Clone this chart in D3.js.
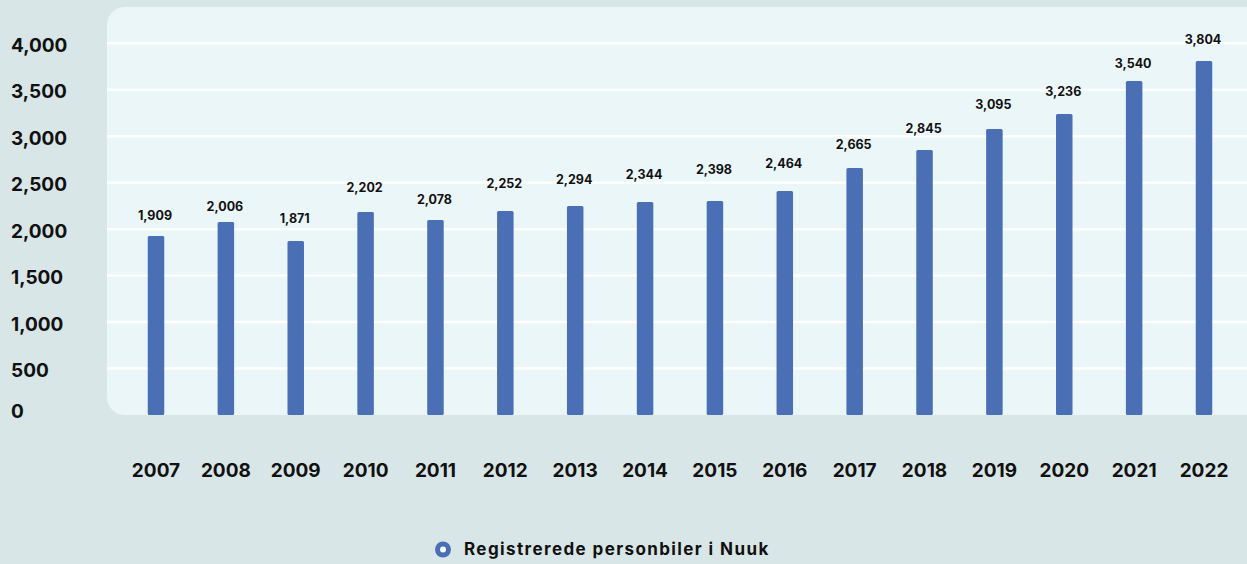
<!DOCTYPE html>
<html>
<head>
<meta charset="utf-8">
<script src="https://cdn.jsdelivr.net/npm/d3@7"></script>
<style>
  html, body { margin: 0; padding: 0; background: #d9e6e7; }
  svg { display: block; font-family: Inter, "Noto Sans", sans-serif; }
</style>
</head>
<body>
<div id="chart"></div>
<script>
// data
const years = ["2007", "2008", "2009", "2010", "2011", "2012", "2013", "2014",
  "2015", "2016", "2017", "2018", "2019", "2020", "2021", "2022"]
// bar heights as drawn
const barValues = [1926, 2077, 1872, 2184, 2098, 2195, 2249, 2292,
  2303, 2410, 2658, 2852, 3078, 3239, 3594, 3809]
// printed labels above the bars
const labelValues = [1909, 2006, 1871, 2202, 2078, 2252, 2294, 2344,
  2398, 2464, 2665, 2845, 3095, 3236, 3540, 3804]
const yTicks = [0, 500, 1000, 1500, 2000, 2500, 3000, 3500, 4000]
const seriesName = "Registrerede personbiler i Nuuk"

const width = 1247, height = 564
const plot = { left: 107, top: 7, right: 1247, bottom: 415 }
const barColor = "#4a6fb5"
const fmt = d3.format(",")

const svg = d3.select("#chart").append("svg")
  .attr("width", width)
  .attr("height", height)
  .attr("viewBox", `0 0 ${width} ${height}`)

svg.append("rect")
  .attr("width", width).attr("height", height)
  .attr("fill", "#d9e6e7")

const x = d3.scalePoint()
  .domain(years)
  .range([156, 1204])

const y = d3.scaleLinear()
  .domain([0, 4000])
  .range([plot.bottom, 43.3])

// plot panel
svg.append("rect")
  .attr("x", plot.left)
  .attr("y", plot.top)
  .attr("width", plot.right - plot.left + 20)
  .attr("height", plot.bottom - plot.top)
  .attr("rx", 18)
  .attr("fill", "#ebf6f8")

// gridlines
svg.append("g")
  .selectAll("line")
  .data(yTicks.filter(d => d > 0))
  .join("line")
  .attr("x1", plot.left)
  .attr("x2", plot.right)
  .attr("y1", d => y(d))
  .attr("y2", d => y(d))
  .attr("stroke", "#ffffff")
  .attr("stroke-width", 2.5)

// y axis labels
svg.append("g")
  .selectAll("text")
  .data(yTicks)
  .join("text")
  .attr("x", 11)
  .attr("y", d => d === 0 ? y(d) - 4 : y(d) + 2)
  .attr("dy", "0.35em")
  .attr("font-size", 19)
  .attr("font-weight", 700)
  .attr("fill", "#111")
  .text(d => fmt(d))

const barW = 16.5
svg.append("g")
  .selectAll("rect")
  .data(years)
  .join("rect")
  .attr("x", d => x(d) - barW / 2)
  .attr("y", (d, i) => y(barValues[i]))
  .attr("width", barW)
  .attr("height", (d, i) => y(0) - y(barValues[i]))
  .attr("rx", 1.5)
  .attr("fill", barColor)

// value labels
svg.append("g")
  .selectAll("text")
  .data(years)
  .join("text")
  .attr("x", d => x(d) - 1)
  .attr("y", (d, i) => y(labelValues[i]) - 18)
  .attr("text-anchor", "middle")
  .attr("font-size", 12.5)
  .attr("font-weight", 700)
  .attr("fill", "#111")
  .text((d, i) => fmt(labelValues[i]))

// x axis labels
svg.append("g")
  .selectAll("text")
  .data(years)
  .join("text")
  .attr("x", d => x(d))
  .attr("y", 477)
  .attr("text-anchor", "middle")
  .attr("font-size", 19)
  .attr("font-weight", 700)
  .attr("fill", "#111")
  .text(d => d)

// legend
const legend = svg.append("g").attr("transform", "translate(443,549.5)")
legend.append("circle").attr("r", 8).attr("fill", barColor)
legend.append("circle").attr("r", 3).attr("fill", "#ffffff")
legend.append("text")
  .attr("x", 21)
  .attr("y", 0)
  .attr("dy", "0.35em")
  .attr("font-size", 17)
  .attr("font-weight", 700)
  .attr("letter-spacing", 1.4)
  .attr("fill", "#111")
  .text(seriesName)
</script>
</body>
</html>
